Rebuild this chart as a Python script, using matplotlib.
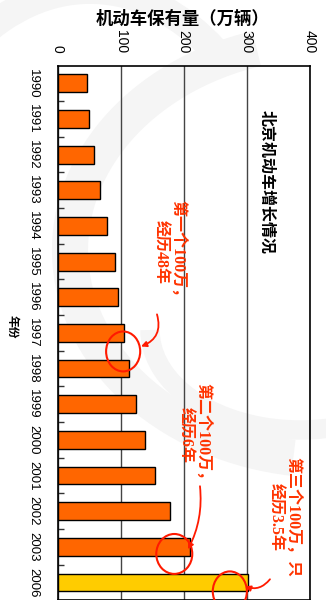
import matplotlib
matplotlib.use("Agg")
import matplotlib.pyplot as plt
from matplotlib.patches import Ellipse, Arc
import numpy as np

# Beijing motor vehicle stock (10k vehicles) by year
years = ["1990", "1991", "1992", "1993", "1994", "1995", "1996", "1997",
         "1998", "1999", "2000", "2001", "2002", "2003", "2006"]
vehicles = [47, 50, 58, 68, 79, 91, 96, 105, 113, 124, 139, 154, 178, 210, 301]
highlight_year = "2006"
x_ticks = [0, 100, 200, 300, 400]

title_text = "机动车保有量（万辆）"
panel_text = "北京机动车增长情况"
ylabel_text = "年份"
notes = ["第一个100万，\n经历48年", "第二个100万，\n经历6年", "第三个100万，只\n经历3.5年"]

CJK = ["Noto Sans CJK SC", "DejaVu Sans"]
MIXED = ["Liberation Serif", "Noto Sans CJK SC"]
RED = "#ff1a00"
TEXT_RED = "#ff3300"

W, H = 326, 600
fig = plt.figure(figsize=(W / 100, H / 100), dpi=100)
fig.patch.set_facecolor("white")

# faint decorative swirl in the background
bg = fig.add_axes([0, 0, 1, 1], zorder=0)
bg.set_xlim(0, W)
bg.set_ylim(H, 0)
bg.axis("off")
for (cx, cy, w, h, t1, t2, lw) in [
    (330, 250, 520, 420, 100, 250, 26),
    (300, 330, 300, 200, 20, 180, 14),
    (90, 300, 420, 620, 180, 300, 20),
]:
    bg.add_patch(Arc((cx, cy), w, h, theta1=t1, theta2=t2,
                     color="#f5f5f5", lw=lw))

ax = fig.add_axes([57.5 / W, -0.3 / H, 252.5 / W, 534.8 / H], zorder=1)
ax.set_facecolor("none")

y = np.arange(len(years))
colors = ["#ffcc00" if yr == highlight_year else "#ff6600" for yr in years]
ax.barh(y, vehicles, height=0.5, color=colors, edgecolor="black",
        linewidth=1.0, zorder=3)

ax.set_xlim(0, 400)
ax.set_ylim(len(years) - 0.5, -0.5)

ax.xaxis.tick_top()
ax.set_xticks(x_ticks)
ax.set_xticklabels([str(v) for v in x_ticks], rotation=-90,
                   family="Liberation Sans", fontsize=10)
ax.tick_params(axis="x", length=0, pad=9)
ax.grid(axis="x", color="#444444", linewidth=1.0, zorder=1)

ax.set_yticks(y)
ax.set_yticklabels(years, rotation=-90, family="Liberation Sans",
                   fontsize=9.5, va="center")
ax.tick_params(axis="y", which="major", length=0, pad=13)
ax.set_yticks(np.arange(0.5, len(years) - 0.5, 1), minor=True)
ax.tick_params(axis="y", which="minor", direction="in", length=4,
               width=1, color="#333333")

for s in ax.spines.values():
    s.set_linewidth(1.2)
    s.set_color("black")

fig.text(182 / W, 1 - 19 / H, title_text, family=CJK, fontsize=12.5,
         fontweight="bold", ha="center", va="center")
fig.text(12 / W, 1 - 327 / H, ylabel_text, family=CJK, fontsize=8.5,
         fontweight="bold", rotation=-90, ha="center", va="center")

ax.text(332, 2.78, panel_text, family=CJK, fontsize=11.5, fontweight="bold",
        rotation=-90, ha="center", va="center", zorder=5)

note_pos = [(176.6, 4.74), (216.2, 9.87), (358.8, 12.17)]
for txt, (tx, ty) in zip(notes, note_pos):
    ax.text(tx, ty, txt, family=MIXED, fontsize=11.5, fontweight="bold",
            color=TEXT_RED, rotation=-90, ha="center", va="center",
            multialignment="center", linespacing=1.2, zorder=5)

# circles around the points where each 100万 is reached
i97 = years.index("1997")
i03 = years.index("2003")
i06 = years.index("2006")
circles = [(vehicles[i97] - 1, i97 + 0.52, 54, 1.12),
           (vehicles[i03] - 25, i03 + 0.2, 57, 1.12),
           (vehicles[i06] - 28, i06 + 0.25, 54, 1.12)]
for cx, cy, w, h in circles:
    ax.add_patch(Ellipse((cx, cy), w, h, fill=False, edgecolor=RED,
                         linewidth=1.5, zorder=6, clip_on=False))

arrows = [((157.6, 6.48), (132.3, 7.38), "arc3,rad=-0.45"),
          ((225.7, 11.3), (206.7, 13.07), "arc3,rad=-0.15"),
          ((336.6, 13.91), (297.0, 14.11), "arc3,rad=-0.35")]
for start, end, cs in arrows:
    ax.annotate("", xy=end, xytext=start,
                arrowprops=dict(arrowstyle="-|>", color=RED, lw=1.3,
                                mutation_scale=8, connectionstyle=cs,
                                shrinkA=0, shrinkB=0),
                annotation_clip=False, zorder=6)

fig.savefig("out.png", dpi=100)
